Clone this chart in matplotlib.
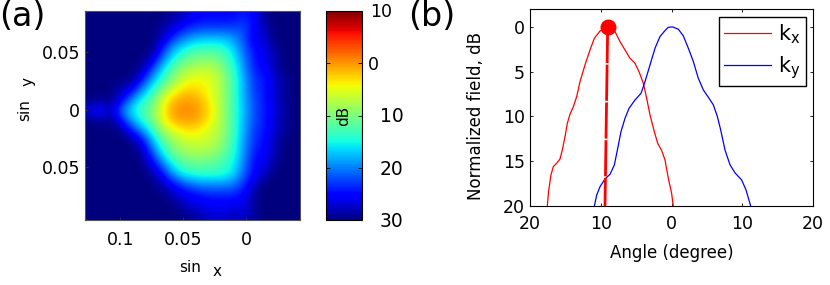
import numpy as np
import matplotlib
matplotlib.use("Agg")
import matplotlib.pyplot as plt

# far-field map in dB, rows top to bottom, columns left to right
field_db = [
    [-30, -30, -30, -30, -30, -30, -30, -30, -29, -28, -26, -25, -25, -25, -25, -24, -25, -29, -30, -30, -30],
    [-30, -30, -30, -30, -30, -30, -30, -29, -27, -25, -23.5, -23, -23, -23, -23, -22, -25, -28, -30, -30, -30],
    [-30, -30, -30, -30, -30, -30, -30, -28, -24, -21, -19, -18, -18, -18, -19, -22, -26, -27, -30, -30, -30],
    [-30, -30, -30, -30, -30, -30, -30, -25, -19, -16, -14, -13.5, -13.5, -14, -17, -21, -25, -26, -29, -30, -30],
    [-30, -30, -30, -30, -30, -30, -28, -21, -16, -12.5, -10.5, -10, -10, -12, -15, -20, -24, -26, -28, -30, -30],
    [-30, -30, -30, -30, -30, -29, -23, -17, -12, -9, -7.5, -7, -7, -10, -14, -19, -24, -25, -28, -30, -30],
    [-30, -30, -30, -30, -30, -25, -19, -14, -10, -6.5, -4.5, -4.5, -5.5, -8.5, -13, -18, -23, -24, -27, -29, -30],
    [-30, -30, -30, -28, -26, -20, -15, -10, -6, -3, -2.5, -3.5, -5.5, -8.5, -13, -18, -23, -24, -27, -29, -30],
    [-30, -29, -30, -26, -20, -15, -12, -6, -2, -0.5, -0.5, -2, -5, -8.5, -13, -18, -22, -24, -27, -29, -30],
    [-26, -24, -28, -21, -16, -13, -10, -5, -0.5, 0.5, 0.5, -1, -4, -8.5, -13, -17.5, -22, -24, -26, -29, -30],
    [-30, -29, -30, -25, -19, -15, -11, -5.5, -1.5, -0.5, -0.5, -2, -5, -8.5, -13, -18, -22, -24, -27, -29, -30],
    [-30, -30, -30, -30, -25, -20, -15, -9, -6, -4, -3.5, -4.5, -6.5, -8.5, -13, -18, -23, -24, -27, -29, -30],
    [-30, -30, -30, -30, -30, -26, -19, -13, -9, -7, -6, -6, -7, -9.5, -13.5, -19, -23, -25, -28, -30, -30],
    [-30, -30, -30, -30, -30, -29, -22, -16, -11, -9, -8, -8, -8.5, -11, -14, -19, -24, -25, -28, -30, -30],
    [-30, -30, -30, -30, -30, -30, -26, -20, -15, -12, -11, -11, -11.5, -13, -15, -20, -25, -26, -29, -30, -30],
    [-30, -30, -30, -30, -30, -30, -29, -25, -19, -15, -14, -13.5, -13.5, -14, -16, -21, -25, -27, -30, -30, -30],
    [-30, -30, -30, -30, -30, -30, -30, -28, -25, -22, -20, -19, -19, -19, -20, -23, -27, -30, -30, -30, -30],
    [-30, -30, -30, -30, -30, -30, -30, -30, -28, -26, -25, -24, -23.5, -23.5, -23.5, -25, -29, -30, -30, -30, -30],
    [-30, -30, -30, -30, -30, -30, -30, -30, -30, -28, -26.5, -26, -25.5, -25.5, -26, -26, -29, -30, -30, -30, -30],
    [-30, -30, -30, -30, -30, -30, -30, -30, -30, -30, -29, -28, -27, -27, -28, -27, -29, -30, -30, -30, -30],
]
map_extent = [0.128, -0.043, -0.0957, 0.086]
map_xticks = [0.1, 0.05, 0]
map_xlabels = ["0.1", "0.05", "0"]
map_yticks = [0.05, 0, -0.05]
map_ylabels = ["0.05", "0", "0.05"]

cbar_ticks = [10, 0, -10, -20, -30]
cbar_labels = ["10", "0", "10", "20", "30"]

kx_angle = [-17.55, -17.38, -17.03, -16.7, -16.2, -15.76, -15.43, -15.05, -14.72, -14.35, -13.87, -13.4, -12.93, -12.23,
            -11.52, -10.9, -10.1, -9.02, -7.98, -7.28, -6.57, -5.87, -5.16, -4.59, -3.98, -3.51, -3.04, -2.43, -1.95,
            -1.39, -0.92, -0.45, 0.02, 0.25]
kx_db = [19.96, 18.4, 16.5, 15.6, 15.2, 14.75, 13.74, 12.25, 10.76, 9.76, 8.9, 7.78, 6.1, 4.25,
         2.57, 1.26, 0.45, 0, 0.52, 1.64, 2.57, 3.5, 4.06, 5.0, 6.3, 7.97, 9.83, 11.7, 13.0,
         13.8, 14.86, 16.9, 18.6, 20]
ky_angle = [-10.9, -10.57, -10.1, -9.4, -8.69, -8.08, -7.6, -7.14, -6.57, -6.0, -5.16, -4.3, -3.74, -3.04, -2.33, -1.63,
            -0.92, -0.45, 0.17, 0.97, 1.67, 2.38, 3.09, 3.79, 4.5, 5.21, 5.91, 6.48, 6.95, 7.56, 8.27, 8.98, 9.92,
            10.53, 11.19]
ky_db = [20, 18.77, 17.84, 16.98, 16.46, 15.42, 13.56, 11.7, 10.2, 9.09, 8.16, 7.41, 6.1, 4.25, 2.38, 1.08,
         0.41, 0.04, 0, 0.26, 1.0, 2.38, 3.87, 5.74, 7.04, 7.86, 8.7, 10.0, 11.5, 13.74, 15.4, 16.3, 17.1,
         18.2, 20]
peak_angle = [-9.02, -9.4]
peak_db = [0, 20]

W, H = 830, 285
plt.rcParams["font.family"] = "DejaVu Sans"
plt.rcParams["font.size"] = 12.5
plt.rcParams["xtick.direction"] = "in"
plt.rcParams["ytick.direction"] = "in"


def px_axes(fig, x0, y0, x1, y1):
    return fig.add_axes([x0 / W, 1 - y1 / H, (x1 - x0) / W, (y1 - y0) / H])


fig = plt.figure(figsize=(W / 100, H / 100), dpi=100)

# (a) map
ax = px_axes(fig, 85, 11, 300, 220)
im = ax.imshow(field_db, cmap="jet", vmin=-30, vmax=10, extent=map_extent,
               aspect="auto", interpolation="bicubic")
ax.set_xticks(map_xticks, map_xlabels)
ax.set_yticks(map_yticks, map_ylabels)
ax.tick_params(length=2, width=0.6, color="#333333")
ax.tick_params(axis="x", pad=7.8)
ax.tick_params(axis="y", pad=3.6)
for s in ax.spines.values():
    s.set_color("#555555")
    s.set_linewidth(0.8)
fig.text(190 / W, 1 - 267 / H, "sin", ha="center", va="center", fontsize=11)
fig.text(217 / W, 1 - 272 / H, "x", ha="center", va="center", fontsize=11)
fig.text(25 / W, 1 - 110 / H, "sin", rotation=90, ha="center", va="center", fontsize=11)
fig.text(28 / W, 1 - 82 / H, "y", rotation=90, ha="center", va="center", fontsize=11)
fig.text(-1 / W, 1 - 16 / H, "(a)", ha="left", va="center", fontsize=24)

# colorbar
cax = px_axes(fig, 326, 11, 362, 220)
fig.colorbar(im, cax=cax, ticks=cbar_ticks)
cax.set_yticklabels([])
cax.tick_params(length=3, width=0.6, left=True, right=True)
cax.text(0.5, 0.5, "dB", rotation=90, ha="center", va="center",
         transform=cax.transAxes, fontsize=11)
for t, lab, xp, fs in zip(cbar_ticks, cbar_labels, [370, 368, 380, 380, 380], [12.5, 12.5, 13.5, 13.5, 13.5]):
    cax.annotate(lab, xy=(1, t), xycoords=("axes fraction", "data"),
                 xytext=(xp, -1), textcoords=("figure pixels", "offset points"),
                 ha="left", va="center", annotation_clip=False, fontsize=fs)

# (b) cuts
ax2 = px_axes(fig, 530, 9, 813, 206)
ax2.plot(kx_angle, kx_db, color="red", lw=0.9, label=r"k$_\mathregular{x}$")
ax2.plot(ky_angle, ky_db, color="blue", lw=0.9, label=r"k$_\mathregular{y}$")
ax2.plot(peak_angle, peak_db, color="red", lw=2, dashes=(13, 0.6))
ax2.plot(peak_angle[:1], peak_db[:1], "o", color="red", ms=10.5)
ax2.set_xlim(-20, 20)
ax2.set_ylim(20, -2)
ax2.set_xticks([-20, -10, 0, 10, 20], ["20", "10", "0", "10", "20"])
ax2.set_yticks([0, 5, 10, 15, 20])
ax2.tick_params(length=2, width=0.6, top=True, right=True)
ax2.tick_params(axis="x", pad=6.5)
for s in ax2.spines.values():
    s.set_linewidth(0.8)
ax2.set_xlabel("Angle (degree)", fontsize=12, labelpad=8)
ax2.set_ylabel("Normalized field, dB", fontsize=12)
ax2.yaxis.set_label_coords(-0.16, 0.455)
ax2.legend(loc="upper right", bbox_to_anchor=((806 - 530) / 283, 1 - (17 - 9) / 197), borderaxespad=0,
           fancybox=False, edgecolor="black", framealpha=1, fontsize=15, handlelength=2.25,
           borderpad=0.25, labelspacing=0.4, handletextpad=0.35)
fig.text(408 / W, 1 - 16 / H, "(b)", ha="left", va="center", fontsize=24)

fig.savefig("out.png", dpi=100)
